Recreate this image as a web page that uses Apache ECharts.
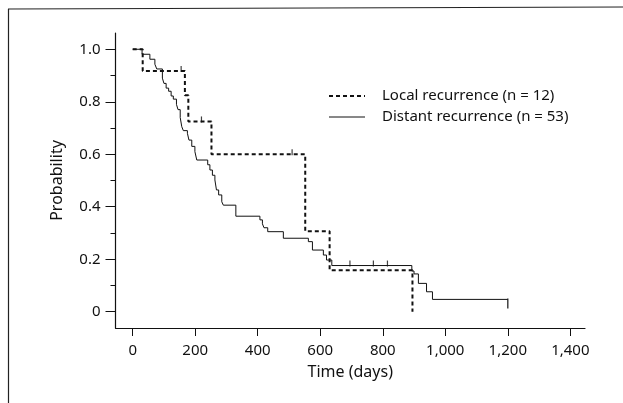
<!DOCTYPE html>
<html>
<head>
<meta charset="utf-8">
<script src="https://cdn.jsdelivr.net/npm/echarts@6/dist/echarts.min.js"></script>
<style>
  html, body { margin: 0; padding: 0; background: #fff; }
  #chart { width: 623px; height: 403px; }
</style>
</head>
<body>
<div id="chart"></div>
<script>
// Kaplan-Meier steps: [day, probability after the drop]
const localSteps = [[0, 1], [32, 0.917], [167, 0.825], [178, 0.725], [252, 0.6],
  [552, 0.307], [630, 0.158], [895, 0.0]];
const distantSteps = [[0, 1], [30, 0.981], [55, 0.962], [71, 0.943], [77, 0.925],
  [95, 0.89], [100, 0.87], [107, 0.852], [115, 0.84], [123, 0.822], [130, 0.81],
  [140, 0.79], [145, 0.77], [152, 0.74], [157, 0.705], [162, 0.69], [175, 0.68],
  [180, 0.654], [189, 0.63], [199, 0.61], [205, 0.578], [240, 0.56], [247, 0.54],
  [255, 0.52], [263, 0.502], [268, 0.464], [275, 0.445], [285, 0.419], [290, 0.406],
  [330, 0.364], [407, 0.35], [415, 0.335], [420, 0.32], [432, 0.305], [482, 0.28],
  [562, 0.267], [575, 0.235], [610, 0.216], [620, 0.197], [637, 0.176],
  [893, 0.155], [900, 0.144], [914, 0.108], [940, 0.076], [959, 0.047], [1200, 0.047]];
const localCensored = [[155, 0.917], [220, 0.725], [510, 0.6]];
const distantCensored = [[695, 0.176], [770, 0.176], [815, 0.176]];
const distantLast = [[1200, 0.047]];
const xTicks = [0, 200, 400, 600, 800, 1000, 1200, 1400];
const yTicks = [0, 0.2, 0.4, 0.6, 0.8, 1.0];
const yMinorTicks = [0.1, 0.3, 0.5, 0.7, 0.9];
const seriesNames = ['Local recurrence (n = 12)', 'Distant recurrence (n = 53)'];

const font = 'Noto Sans';
const ink = '#111';
const myChart = echarts.init(document.getElementById('chart'));

const yBase = {
  type: 'value',
  min: -0.062,
  max: 1.062,
  splitLine: { show: false }
};

// legend drawn as graphic so the keys are plain line samples
const legendKey = (y, dash, width, text) => [
  { type: 'line', shape: { x1: 329, y1: y, x2: 365, y2: y },
    style: { stroke: ink, lineWidth: width, lineDash: dash } },
  { type: 'text', x: 382, y: y, style: { text: text, fill: ink, font: '15px "' + font + '"',
    verticalAlign: 'middle' } }
];

const option = {
  animation: false,
  backgroundColor: '#fff',
  textStyle: { fontFamily: font, color: ink },
  grid: { left: 115.5, right: 38, top: 33, bottom: 75, containLabel: false },
  graphic: [
    { type: 'line', shape: { x1: 8, y1: 9, x2: 623, y2: 7 }, style: { stroke: '#222', lineWidth: 1.2 } },
    { type: 'line', shape: { x1: 8.5, y1: 9, x2: 8.5, y2: 403 }, style: { stroke: '#222', lineWidth: 1.2 } }
  ].concat(legendKey(96, [4, 3], 2, seriesNames[0]), legendKey(117, null, 1, seriesNames[1])),
  xAxis: {
    type: 'value',
    min: -55,
    max: 1447,
    name: 'Time (days)',
    nameLocation: 'middle',
    nameGap: 36,
    nameTextStyle: { fontFamily: font, fontSize: 16, color: ink },
    axisLine: { show: true, onZero: false, lineStyle: { color: ink, width: 1.2 } },
    axisTick: { show: true, customValues: xTicks, length: 8, lineStyle: { color: ink } },
    axisLabel: {
      customValues: xTicks,
      margin: 15,
      fontFamily: font,
      fontSize: 15,
      color: ink,
      formatter: v => v >= 1000 ? v.toLocaleString('en-US') : String(v)
    },
    splitLine: { show: false }
  },
  yAxis: [
    Object.assign({}, yBase, {
      name: 'Probability',
      nameLocation: 'middle',
      nameGap: 50,
      nameTextStyle: { fontFamily: font, fontSize: 16, color: ink },
      axisLine: { show: true, onZero: false, lineStyle: { color: ink, width: 1.2 } },
      axisTick: { show: true, customValues: yTicks, length: 10, lineStyle: { color: ink } },
      axisLabel: {
        customValues: yTicks,
        margin: 15,
        fontFamily: font,
        fontSize: 15,
        color: ink,
        formatter: v => v === 0 ? '0' : v.toFixed(1)
      }
    }),
    Object.assign({}, yBase, {
      position: 'left',
      axisLine: { show: false, onZero: false },
      axisTick: { show: true, customValues: yMinorTicks, length: 5, lineStyle: { color: ink } },
      axisLabel: { show: false }
    })
  ],
  series: [
    {
      name: seriesNames[0],
      type: 'line',
      step: 'end',
      data: localSteps,
      showSymbol: false,
      symbol: 'none',
      lineStyle: { color: ink, width: 2, type: [4, 3] },
      z: 3
    },
    {
      name: seriesNames[1],
      type: 'line',
      step: 'end',
      data: distantSteps,
      showSymbol: false,
      symbol: 'none',
      lineStyle: { color: ink, width: 1 },
      z: 2
    },
    {
      type: 'scatter',
      data: localCensored.concat(distantCensored),
      symbol: 'rect',
      symbolSize: [1.2, 6],
      symbolOffset: [0, -2],
      itemStyle: { color: ink },
      silent: true
    },
    {
      type: 'scatter',
      data: distantLast,
      symbol: 'rect',
      symbolSize: [1.5, 10],
      symbolOffset: [0, 4],
      itemStyle: { color: ink },
      silent: true
    }
  ]
};

myChart.setOption(option);
</script>
</body>
</html>
